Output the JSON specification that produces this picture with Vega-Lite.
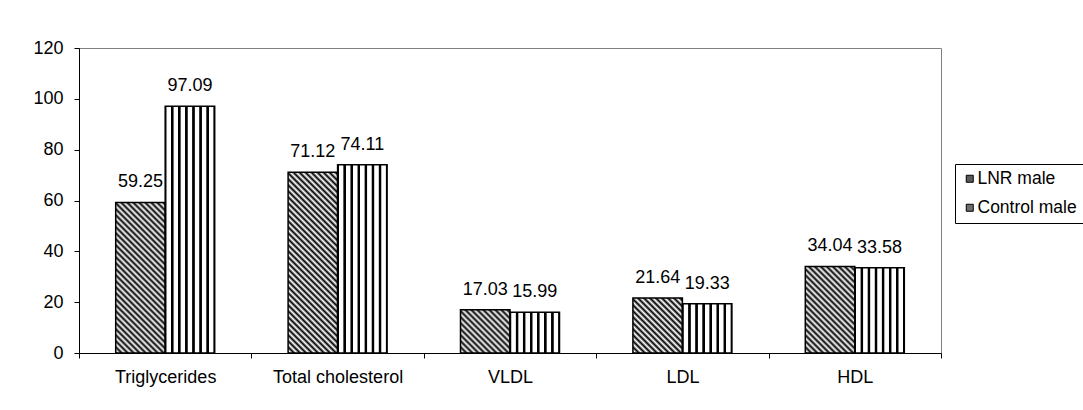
{
  "$schema": "https://vega.github.io/schema/vega-lite/v6.json",
  "width": 862,
  "height": 305,
  "autosize": {"type": "none"},
  "padding": {"left": 79, "top": 48, "right": 142, "bottom": 57},
  "background": "white",
  "config": {
    "font": "Liberation Sans",
    "view": {"stroke": "#808080", "strokeWidth": 1}
  },
  "data": {
    "values": [
      {"cat": "Triglycerides", "group": "LNR male", "value": 59.25},
      {"cat": "Triglycerides", "group": "Control male", "value": 97.09},
      {"cat": "Total cholesterol", "group": "LNR male", "value": 71.12},
      {"cat": "Total cholesterol", "group": "Control male", "value": 74.11},
      {"cat": "VLDL", "group": "LNR male", "value": 17.03},
      {"cat": "VLDL", "group": "Control male", "value": 15.99},
      {"cat": "LDL", "group": "LNR male", "value": 21.64},
      {"cat": "LDL", "group": "Control male", "value": 19.33},
      {"cat": "HDL", "group": "LNR male", "value": 34.04},
      {"cat": "HDL", "group": "Control male", "value": 33.58}
    ]
  },
  "encoding": {
    "x": {
      "field": "cat", "type": "nominal",
      "sort": ["Triglycerides", "Total cholesterol", "VLDL", "LDL", "HDL"],
      "scale": {"paddingInner": 0, "paddingOuter": 0},
      "axis": {"title": null, "labelAngle": 0, "tickBand": "extent", "domainColor": "black", "tickColor": "black", "tickSize": 5, "labelFontSize": 18, "labelColor": "black", "labelPadding": 10, "grid": false}
    },
    "xOffset": {
      "field": "group", "type": "nominal",
      "sort": ["LNR male", "Control male"],
      "scale": {"paddingInner": 0, "paddingOuter": 0.7414}
    },
    "y": {
      "field": "value", "type": "quantitative",
      "scale": {"domain": [0, 120]},
      "axis": {"title": null, "values": [0, 20, 40, 60, 80, 100, 120], "grid": false, "domainColor": "black", "tickColor": "black", "tickSize": 5, "labelFontSize": 18, "labelColor": "black", "labelPadding": 11}
    }
  },
  "layer": [
    {
      "mark": {"type": "bar", "stroke": "black", "strokeWidth": 1.5},
      "encoding": {
        "fill": {
          "field": "group", "type": "nominal",
          "scale": {"domain": ["LNR male", "Control male"], "range": ["#5a5a5a", "#6e6e6e"]},
          "legend": {"title": null, "orient": "none", "legendX": 876, "legendY": 116, "strokeColor": "black", "fillColor": "white", "padding": 6, "symbolType": "square", "symbolSize": 49, "symbolStrokeColor": "black", "symbolStrokeWidth": 1, "labelFontSize": 17.5, "labelColor": "black", "labelOffset": -1, "rowPadding": 10},
          "condition": [
            {"test": "datum.group === 'Control male'", "value": {"gradient": "linear", "x1": 0, "y1": 0, "x2": 1, "y2": 0, "stops": [
              {"offset": 0, "color": "#000"}, {"offset": 0.018, "color": "#000"}, {"offset": 0.034, "color": "#fff"},
              {"offset": 0.1089, "color": "#fff"}, {"offset": 0.1249, "color": "#000"}, {"offset": 0.1609, "color": "#000"}, {"offset": 0.1769, "color": "#fff"},
              {"offset": 0.2517, "color": "#fff"}, {"offset": 0.2677, "color": "#000"}, {"offset": 0.3037, "color": "#000"}, {"offset": 0.3197, "color": "#fff"},
              {"offset": 0.3946, "color": "#fff"}, {"offset": 0.4106, "color": "#000"}, {"offset": 0.4466, "color": "#000"}, {"offset": 0.4626, "color": "#fff"},
              {"offset": 0.5374, "color": "#fff"}, {"offset": 0.5534, "color": "#000"}, {"offset": 0.5894, "color": "#000"}, {"offset": 0.6054, "color": "#fff"},
              {"offset": 0.6803, "color": "#fff"}, {"offset": 0.6963, "color": "#000"}, {"offset": 0.7323, "color": "#000"}, {"offset": 0.7483, "color": "#fff"},
              {"offset": 0.8231, "color": "#fff"}, {"offset": 0.8391, "color": "#000"}, {"offset": 0.8751, "color": "#000"}, {"offset": 0.8911, "color": "#fff"},
              {"offset": 0.966, "color": "#fff"}, {"offset": 0.982, "color": "#000"}, {"offset": 1, "color": "#000"}
            ]}},
            {"test": "datum.cat === 'Triglycerides'", "value": {"gradient": "linear", "x1": 0, "y1": 1, "x2": 0.4728, "y2": -0.4383, "stops": [
              {"offset": 0, "color": "#000"}, {"offset": 0.0125, "color": "#fff"}, {"offset": 0.025, "color": "#000"}, {"offset": 0.0375, "color": "#fff"},
              {"offset": 0.05, "color": "#000"}, {"offset": 0.0625, "color": "#fff"}, {"offset": 0.075, "color": "#000"}, {"offset": 0.0875, "color": "#fff"},
              {"offset": 0.1, "color": "#000"}, {"offset": 0.1125, "color": "#fff"}, {"offset": 0.125, "color": "#000"}, {"offset": 0.1375, "color": "#fff"},
              {"offset": 0.15, "color": "#000"}, {"offset": 0.1625, "color": "#fff"}, {"offset": 0.175, "color": "#000"}, {"offset": 0.1875, "color": "#fff"},
              {"offset": 0.2, "color": "#000"}, {"offset": 0.2125, "color": "#fff"}, {"offset": 0.225, "color": "#000"}, {"offset": 0.2375, "color": "#fff"},
              {"offset": 0.25, "color": "#000"}, {"offset": 0.2625, "color": "#fff"}, {"offset": 0.275, "color": "#000"}, {"offset": 0.2875, "color": "#fff"},
              {"offset": 0.3, "color": "#000"}, {"offset": 0.3125, "color": "#fff"}, {"offset": 0.325, "color": "#000"}, {"offset": 0.3375, "color": "#fff"},
              {"offset": 0.35, "color": "#000"}, {"offset": 0.3625, "color": "#fff"}, {"offset": 0.375, "color": "#000"}, {"offset": 0.3875, "color": "#fff"},
              {"offset": 0.4, "color": "#000"}, {"offset": 0.4125, "color": "#fff"}, {"offset": 0.425, "color": "#000"}, {"offset": 0.4375, "color": "#fff"},
              {"offset": 0.45, "color": "#000"}, {"offset": 0.4625, "color": "#fff"}, {"offset": 0.475, "color": "#000"}, {"offset": 0.4875, "color": "#fff"},
              {"offset": 0.5, "color": "#000"}, {"offset": 0.5125, "color": "#fff"}, {"offset": 0.525, "color": "#000"}, {"offset": 0.5375, "color": "#fff"},
              {"offset": 0.55, "color": "#000"}, {"offset": 0.5625, "color": "#fff"}, {"offset": 0.575, "color": "#000"}, {"offset": 0.5875, "color": "#fff"},
              {"offset": 0.6, "color": "#000"}, {"offset": 0.6125, "color": "#fff"}, {"offset": 0.625, "color": "#000"}, {"offset": 0.6375, "color": "#fff"},
              {"offset": 0.65, "color": "#000"}, {"offset": 0.6625, "color": "#fff"}, {"offset": 0.675, "color": "#000"}, {"offset": 0.6875, "color": "#fff"},
              {"offset": 0.7, "color": "#000"}, {"offset": 0.7125, "color": "#fff"}, {"offset": 0.725, "color": "#000"}, {"offset": 0.7375, "color": "#fff"},
              {"offset": 0.75, "color": "#000"}, {"offset": 0.7625, "color": "#fff"}, {"offset": 0.775, "color": "#000"}, {"offset": 0.7875, "color": "#fff"},
              {"offset": 0.8, "color": "#000"}, {"offset": 0.8125, "color": "#fff"}, {"offset": 0.825, "color": "#000"}, {"offset": 0.8375, "color": "#fff"}
            ]}},
            {"test": "datum.cat === 'Total cholesterol'", "value": {"gradient": "linear", "x1": 0, "y1": 1, "x2": 0.3382, "y2": -0.2351, "stops": [
              {"offset": 0, "color": "#000"}, {"offset": 0.0125, "color": "#fff"}, {"offset": 0.025, "color": "#000"}, {"offset": 0.0375, "color": "#fff"},
              {"offset": 0.05, "color": "#000"}, {"offset": 0.0625, "color": "#fff"}, {"offset": 0.075, "color": "#000"}, {"offset": 0.0875, "color": "#fff"},
              {"offset": 0.1, "color": "#000"}, {"offset": 0.1125, "color": "#fff"}, {"offset": 0.125, "color": "#000"}, {"offset": 0.1375, "color": "#fff"},
              {"offset": 0.15, "color": "#000"}, {"offset": 0.1625, "color": "#fff"}, {"offset": 0.175, "color": "#000"}, {"offset": 0.1875, "color": "#fff"},
              {"offset": 0.2, "color": "#000"}, {"offset": 0.2125, "color": "#fff"}, {"offset": 0.225, "color": "#000"}, {"offset": 0.2375, "color": "#fff"},
              {"offset": 0.25, "color": "#000"}, {"offset": 0.2625, "color": "#fff"}, {"offset": 0.275, "color": "#000"}, {"offset": 0.2875, "color": "#fff"},
              {"offset": 0.3, "color": "#000"}, {"offset": 0.3125, "color": "#fff"}, {"offset": 0.325, "color": "#000"}, {"offset": 0.3375, "color": "#fff"},
              {"offset": 0.35, "color": "#000"}, {"offset": 0.3625, "color": "#fff"}, {"offset": 0.375, "color": "#000"}, {"offset": 0.3875, "color": "#fff"},
              {"offset": 0.4, "color": "#000"}, {"offset": 0.4125, "color": "#fff"}, {"offset": 0.425, "color": "#000"}, {"offset": 0.4375, "color": "#fff"},
              {"offset": 0.45, "color": "#000"}, {"offset": 0.4625, "color": "#fff"}, {"offset": 0.475, "color": "#000"}, {"offset": 0.4875, "color": "#fff"},
              {"offset": 0.5, "color": "#000"}, {"offset": 0.5125, "color": "#fff"}, {"offset": 0.525, "color": "#000"}, {"offset": 0.5375, "color": "#fff"},
              {"offset": 0.55, "color": "#000"}, {"offset": 0.5625, "color": "#fff"}, {"offset": 0.575, "color": "#000"}, {"offset": 0.5875, "color": "#fff"},
              {"offset": 0.6, "color": "#000"}, {"offset": 0.6125, "color": "#fff"}, {"offset": 0.625, "color": "#000"}, {"offset": 0.6375, "color": "#fff"},
              {"offset": 0.65, "color": "#000"}, {"offset": 0.6625, "color": "#fff"}, {"offset": 0.675, "color": "#000"}, {"offset": 0.6875, "color": "#fff"},
              {"offset": 0.7, "color": "#000"}, {"offset": 0.7125, "color": "#fff"}, {"offset": 0.725, "color": "#000"}, {"offset": 0.7375, "color": "#fff"},
              {"offset": 0.75, "color": "#000"}, {"offset": 0.7625, "color": "#fff"}, {"offset": 0.775, "color": "#000"}, {"offset": 0.7875, "color": "#fff"},
              {"offset": 0.8, "color": "#000"}, {"offset": 0.8125, "color": "#fff"}, {"offset": 0.825, "color": "#000"}, {"offset": 0.8375, "color": "#fff"},
              {"offset": 0.85, "color": "#000"}, {"offset": 0.8625, "color": "#fff"}, {"offset": 0.875, "color": "#000"}, {"offset": 0.8875, "color": "#fff"},
              {"offset": 0.9, "color": "#000"}, {"offset": 0.9125, "color": "#fff"}, {"offset": 0.925, "color": "#000"}, {"offset": 0.9375, "color": "#fff"},
              {"offset": 0.95, "color": "#000"}, {"offset": 0.9625, "color": "#fff"}
            ]}},
            {"test": "datum.cat === 'VLDL'", "value": {"gradient": "linear", "x1": 0, "y1": 1, "x2": 2.7478, "y2": -1.4026, "stops": [
              {"offset": 0, "color": "#000"}, {"offset": 0.0125, "color": "#fff"}, {"offset": 0.025, "color": "#000"}, {"offset": 0.0375, "color": "#fff"},
              {"offset": 0.05, "color": "#000"}, {"offset": 0.0625, "color": "#fff"}, {"offset": 0.075, "color": "#000"}, {"offset": 0.0875, "color": "#fff"},
              {"offset": 0.1, "color": "#000"}, {"offset": 0.1125, "color": "#fff"}, {"offset": 0.125, "color": "#000"}, {"offset": 0.1375, "color": "#fff"},
              {"offset": 0.15, "color": "#000"}, {"offset": 0.1625, "color": "#fff"}, {"offset": 0.175, "color": "#000"}, {"offset": 0.1875, "color": "#fff"},
              {"offset": 0.2, "color": "#000"}, {"offset": 0.2125, "color": "#fff"}, {"offset": 0.225, "color": "#000"}, {"offset": 0.2375, "color": "#fff"},
              {"offset": 0.25, "color": "#000"}, {"offset": 0.2625, "color": "#fff"}, {"offset": 0.275, "color": "#000"}, {"offset": 0.2875, "color": "#fff"},
              {"offset": 0.3, "color": "#000"}, {"offset": 0.3125, "color": "#fff"}, {"offset": 0.325, "color": "#000"}, {"offset": 0.3375, "color": "#fff"},
              {"offset": 0.35, "color": "#000"}, {"offset": 0.3625, "color": "#fff"}, {"offset": 0.375, "color": "#000"}, {"offset": 0.3875, "color": "#fff"}
            ]}},
            {"test": "datum.cat === 'LDL'", "value": {"gradient": "linear", "x1": 0, "y1": 1, "x2": 2.1698, "y2": -1.4109, "stops": [
              {"offset": 0, "color": "#000"}, {"offset": 0.0125, "color": "#fff"}, {"offset": 0.025, "color": "#000"}, {"offset": 0.0375, "color": "#fff"},
              {"offset": 0.05, "color": "#000"}, {"offset": 0.0625, "color": "#fff"}, {"offset": 0.075, "color": "#000"}, {"offset": 0.0875, "color": "#fff"},
              {"offset": 0.1, "color": "#000"}, {"offset": 0.1125, "color": "#fff"}, {"offset": 0.125, "color": "#000"}, {"offset": 0.1375, "color": "#fff"},
              {"offset": 0.15, "color": "#000"}, {"offset": 0.1625, "color": "#fff"}, {"offset": 0.175, "color": "#000"}, {"offset": 0.1875, "color": "#fff"},
              {"offset": 0.2, "color": "#000"}, {"offset": 0.2125, "color": "#fff"}, {"offset": 0.225, "color": "#000"}, {"offset": 0.2375, "color": "#fff"},
              {"offset": 0.25, "color": "#000"}, {"offset": 0.2625, "color": "#fff"}, {"offset": 0.275, "color": "#000"}, {"offset": 0.2875, "color": "#fff"},
              {"offset": 0.3, "color": "#000"}, {"offset": 0.3125, "color": "#fff"}, {"offset": 0.325, "color": "#000"}, {"offset": 0.3375, "color": "#fff"},
              {"offset": 0.35, "color": "#000"}, {"offset": 0.3625, "color": "#fff"}, {"offset": 0.375, "color": "#000"}, {"offset": 0.3875, "color": "#fff"},
              {"offset": 0.4, "color": "#000"}, {"offset": 0.4125, "color": "#fff"}, {"offset": 0.425, "color": "#000"}, {"offset": 0.4375, "color": "#fff"}
            ]}},
            {"test": "datum.cat === 'HDL'", "value": {"gradient": "linear", "x1": 0, "y1": 1, "x2": 1.1957, "y2": -1.0899, "stops": [
              {"offset": 0, "color": "#000"}, {"offset": 0.0125, "color": "#fff"}, {"offset": 0.025, "color": "#000"}, {"offset": 0.0375, "color": "#fff"},
              {"offset": 0.05, "color": "#000"}, {"offset": 0.0625, "color": "#fff"}, {"offset": 0.075, "color": "#000"}, {"offset": 0.0875, "color": "#fff"},
              {"offset": 0.1, "color": "#000"}, {"offset": 0.1125, "color": "#fff"}, {"offset": 0.125, "color": "#000"}, {"offset": 0.1375, "color": "#fff"},
              {"offset": 0.15, "color": "#000"}, {"offset": 0.1625, "color": "#fff"}, {"offset": 0.175, "color": "#000"}, {"offset": 0.1875, "color": "#fff"},
              {"offset": 0.2, "color": "#000"}, {"offset": 0.2125, "color": "#fff"}, {"offset": 0.225, "color": "#000"}, {"offset": 0.2375, "color": "#fff"},
              {"offset": 0.25, "color": "#000"}, {"offset": 0.2625, "color": "#fff"}, {"offset": 0.275, "color": "#000"}, {"offset": 0.2875, "color": "#fff"},
              {"offset": 0.3, "color": "#000"}, {"offset": 0.3125, "color": "#fff"}, {"offset": 0.325, "color": "#000"}, {"offset": 0.3375, "color": "#fff"},
              {"offset": 0.35, "color": "#000"}, {"offset": 0.3625, "color": "#fff"}, {"offset": 0.375, "color": "#000"}, {"offset": 0.3875, "color": "#fff"},
              {"offset": 0.4, "color": "#000"}, {"offset": 0.4125, "color": "#fff"}, {"offset": 0.425, "color": "#000"}, {"offset": 0.4375, "color": "#fff"},
              {"offset": 0.45, "color": "#000"}, {"offset": 0.4625, "color": "#fff"}, {"offset": 0.475, "color": "#000"}, {"offset": 0.4875, "color": "#fff"},
              {"offset": 0.5, "color": "#000"}, {"offset": 0.5125, "color": "#fff"}, {"offset": 0.525, "color": "#000"}, {"offset": 0.5375, "color": "#fff"},
              {"offset": 0.55, "color": "#000"}, {"offset": 0.5625, "color": "#fff"}, {"offset": 0.575, "color": "#000"}
            ]}}
          ]
        }
      }
    },
    {
      "mark": {"type": "text", "dy": -15, "baseline": "alphabetic", "align": "center", "fontSize": 18, "color": "black"},
      "encoding": {
        "text": {"field": "value", "type": "quantitative", "format": ".2f"}
      }
    }
  ]
}
